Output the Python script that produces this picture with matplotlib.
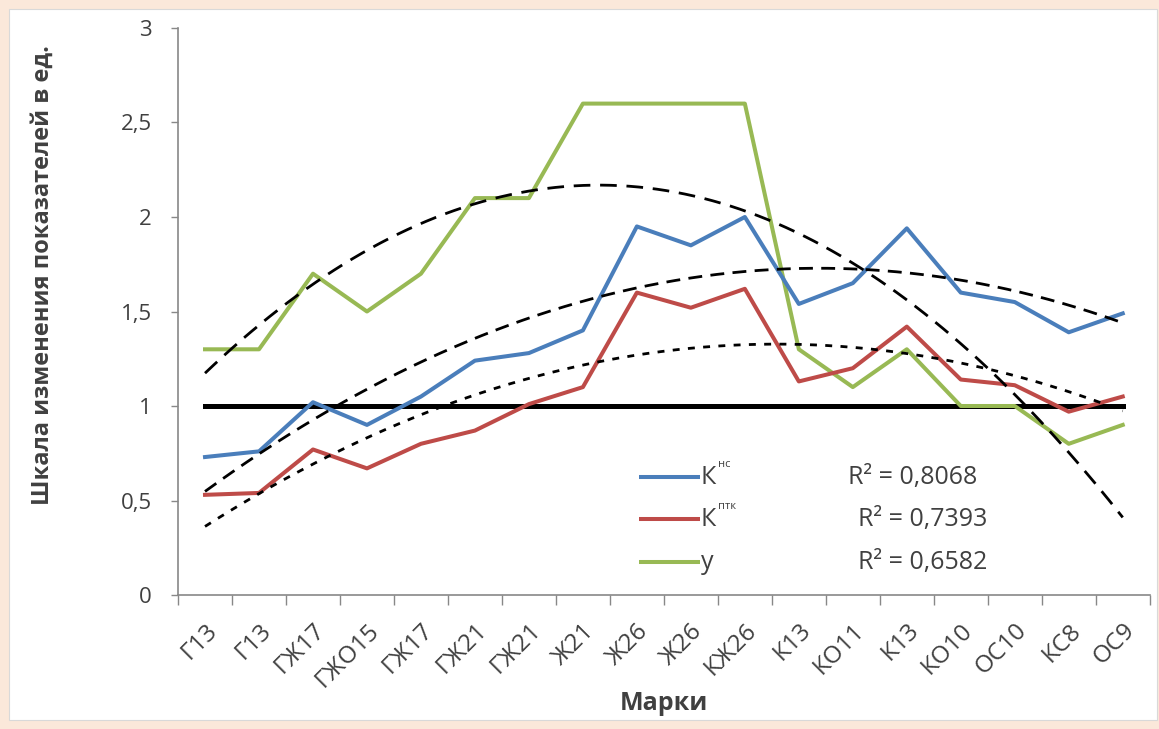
import numpy as np
import matplotlib.pyplot as plt
from matplotlib.patches import Rectangle

# categories (steel grades)
marks = ["Г13", "Г13", "ГЖ17", "ГЖО15", "ГЖ17", "ГЖ21", "ГЖ21", "Ж21", "Ж26",
         "Ж26", "КЖ26", "К13", "КО11", "К13", "КО10", "ОС10", "КС8", "ОС9"]

k_ns = [0.73, 0.76, 1.02, 0.90, 1.05, 1.24, 1.28, 1.40, 1.95,
        1.85, 2.00, 1.54, 1.65, 1.94, 1.60, 1.55, 1.39, 1.49]
k_ptk = [0.53, 0.54, 0.77, 0.67, 0.80, 0.87, 1.01, 1.10, 1.60,
         1.52, 1.62, 1.13, 1.20, 1.42, 1.14, 1.11, 0.97, 1.05]
y_val = [1.30, 1.30, 1.70, 1.50, 1.70, 2.10, 2.10, 2.60, 2.60,
         2.60, 2.60, 1.30, 1.10, 1.30, 1.00, 1.00, 0.80, 0.90]
base = [1.0] * len(marks)

r2_labels = ["R² = 0,8068", "R² = 0,7393", "R² = 0,6582"]

BLUE = "#4A7EBB"
RED = "#BE4B48"
GREEN = "#98B954"
TXT = "#404040"

plt.rcParams['font.family'] = ['Open Sans', 'DejaVu Sans']

fig = plt.figure(figsize=(11.59, 7.29), dpi=100)
fig.patch.set_facecolor("#FBE8DA")
fig.patches.append(Rectangle((0.008, 0.012), 0.99, 0.975, transform=fig.transFigure,
                             facecolor="white", edgecolor="#d9d9d9", lw=0.8, zorder=-1))
ax = fig.add_axes([0.1536, 0.1838, 0.8384, 0.7778])
ax.set_facecolor("none")

x = np.arange(len(marks))

# quadratic trendlines
xx = np.linspace(0, len(marks) - 1, 200)
trend_styles = [(0, (5, 3)), (0, (2.5, 3)), (0, (6, 3.5))]
for vals, ls in zip([k_ns, k_ptk, y_val], trend_styles):
    c = np.polyfit(x, vals, 2)
    ax.plot(xx, np.polyval(c, xx), color="black", lw=2.0, ls=ls, zorder=3)

ax.plot(x, base, color="black", lw=3.6, zorder=2)
ax.plot(x, y_val, color=GREEN, lw=2.9, zorder=2.5)
ax.plot(x, k_ptk, color=RED, lw=2.9, zorder=2.6)
ax.plot(x, k_ns, color=BLUE, lw=2.9, zorder=2.7)

ax.set_xlim(-0.5, len(marks) - 0.5)
ax.set_ylim(0, 3)
ax.set_yticks([0, 0.5, 1, 1.5, 2, 2.5, 3])
ax.set_yticklabels(["0", "0,5", "1", "1,5", "2", "2,5", "3"])

ax.set_xticks(np.arange(-0.5, len(marks), 1))
ax.set_xticklabels([])
ax.set_xticks(x, minor=True)
ax.set_xticklabels(marks, minor=True, rotation=45, ha="right", rotation_mode="anchor")
ax.tick_params(axis="x", which="major", length=7, color="#888888", width=1)
ax.tick_params(axis="x", which="minor", length=0, pad=17, labelsize=17.5, labelcolor=TXT)
ax.tick_params(axis="y", length=5, color="#888888", width=1, labelsize=16,
               labelcolor=TXT, pad=14)

for s in ["top", "right"]:
    ax.spines[s].set_visible(False)
for s in ["left", "bottom"]:
    ax.spines[s].set_color("#888888")
    ax.spines[s].set_linewidth(1.2)

ax.set_ylabel("Шкала изменения показателей в ед.", fontsize=17, fontweight="bold",
              color=TXT)
ax.yaxis.set_label_coords(-0.127, 0.564)
ax.set_xlabel("Марки", fontsize=18, fontweight="bold", color=TXT)
ax.xaxis.set_label_coords(0.5, -0.17)

# legend drawn by hand (superscripts)
leg = [(BLUE, "К", "нс", 0.208), (RED, "К", "птк", 0.134), (GREEN, "у", "", 0.058)]
r2_x = [0.689, 0.700, 0.700]
for (col, main, sup, yy), lab, rx in zip(leg, r2_labels, r2_x):
    ax.plot([0.474, 0.537], [yy, yy], color=col, lw=2.9, transform=ax.transAxes,
            solid_capstyle="butt")
    ax.text(0.538, yy, main, transform=ax.transAxes, fontsize=18, color=TXT,
            va="center", ha="left")
    if sup:
        ax.text(0.556, yy + 0.022, sup, transform=ax.transAxes, fontsize=8,
                color=TXT, va="center", ha="left")
    ax.text(rx, yy, lab, transform=ax.transAxes, fontsize=18, color=TXT,
            va="center", ha="left")

fig.savefig("out.png", dpi=100, facecolor=fig.get_facecolor())
